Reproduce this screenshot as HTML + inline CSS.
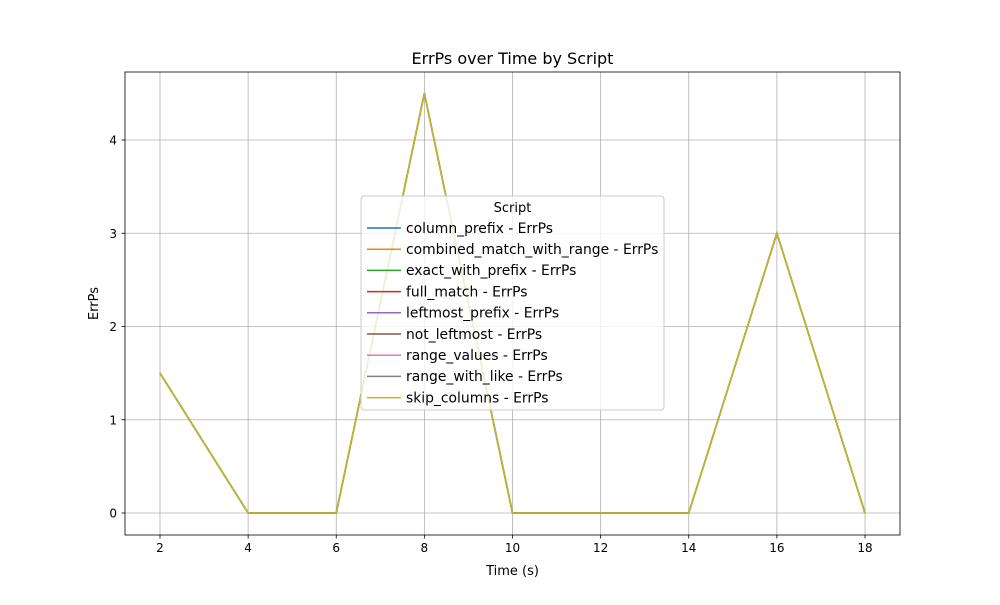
<!DOCTYPE html>
<html><head><meta charset="utf-8"><style>
body{margin:0;background:#fff;}
svg text{font-family:"DejaVu Sans","Liberation Sans",sans-serif;fill:#000;}
</style></head><body>
<svg id="chart" width="1000" height="600" xmlns="http://www.w3.org/2000/svg">
<rect width="1000" height="600" fill="#fff"/>
<g id="grid"></g>
<g id="series"></g>
<rect x="125" y="72" width="775" height="463" fill="none" stroke="#000" stroke-width="0.8"/>
<g id="ticks"></g>
<text x="512.5" y="64" text-anchor="middle" font-size="16">ErrPs over Time by Script</text>
<text x="512.5" y="575" text-anchor="middle" font-size="13">Time (s)</text>
<text x="98" y="303.5" text-anchor="middle" font-size="13" transform="rotate(-90 98 303.5)">ErrPs</text>
<g id="legend"></g>
</svg>
<script>
const times=[2,4,6,8,10,12,14,16,18];
const errps=[1.5,0,0,4.5,0,0,0,3,0];
const scripts=["column_prefix","combined_match_with_range","exact_with_prefix","full_match","leftmost_prefix","not_leftmost","range_values","range_with_like","skip_columns"];
const colors=["#1f77b4","#ff7f0e","#2ca02c","#d62728","#9467bd","#8c564b","#e377c2","#7f7f7f","#bcbd22"];
const xTicks=[2,4,6,8,10,12,14,16,18];
const yTicks=[0,1,2,3,4];
const NS="http://www.w3.org/2000/svg";
const X=v=>160+(v-2)*(865-160)/16;
const Y=v=>513-v*(513-140)/4;
function mk(tag,attrs,parent){const e=document.createElementNS(NS,tag);for(const k in attrs)e.setAttribute(k,attrs[k]);parent.appendChild(e);return e;}
const grid=document.getElementById('grid'),ticks=document.getElementById('ticks');
xTicks.forEach(t=>{
 const g=mk('line',{x1:X(t),x2:X(t),y1:72,y2:535,stroke:'#b0b0b0','stroke-width':0.8},grid);
 
 
 mk('line',{x1:X(t),x2:X(t),y1:535,y2:538.5,stroke:'#000','stroke-width':0.8},ticks);
 const l=mk('text',{x:X(t),y:552,'text-anchor':'middle','font-size':12},ticks);l.textContent=t;
 
 
});
yTicks.forEach(t=>{
 const g=mk('line',{x1:125,x2:900,y1:Y(t),y2:Y(t),stroke:'#b0b0b0','stroke-width':0.8},grid);
 
 
 mk('line',{x1:121.5,x2:125,y1:Y(t),y2:Y(t),stroke:'#000','stroke-width':0.8},ticks);
 const l=mk('text',{x:117,y:Y(t)+4.5,'text-anchor':'end','font-size':12},ticks);l.textContent=t;
 
 
});
const ser=document.getElementById('series');
scripts.forEach((s,i)=>{
 const p=mk('polyline',{points:times.map((t,j)=>X(t)+','+Y(errps[j])).join(' '),fill:'none',stroke:colors[i],'stroke-width':1.5},ser);
 
 
});
const lg=document.getElementById('legend');
const box=mk('rect',{x:361,y:196,width:303,height:214,rx:3,fill:'#fff','fill-opacity':0.8,stroke:'#ccc'},lg);


const lt=mk('text',{x:512.5,y:212,'text-anchor':'middle','font-size':13},lg);lt.textContent='Script';


scripts.forEach((s,i)=>{
 const y=228+i*21.2;
 mk('line',{x1:367,x2:401,y1:y,y2:y,stroke:colors[i],'stroke-width':1.5},lg);
 const t=mk('text',{x:406,y:y+4.8,'font-size':13.9},lg);t.textContent=s+' - ErrPs';
 
 
});
</script>
</body></html>
